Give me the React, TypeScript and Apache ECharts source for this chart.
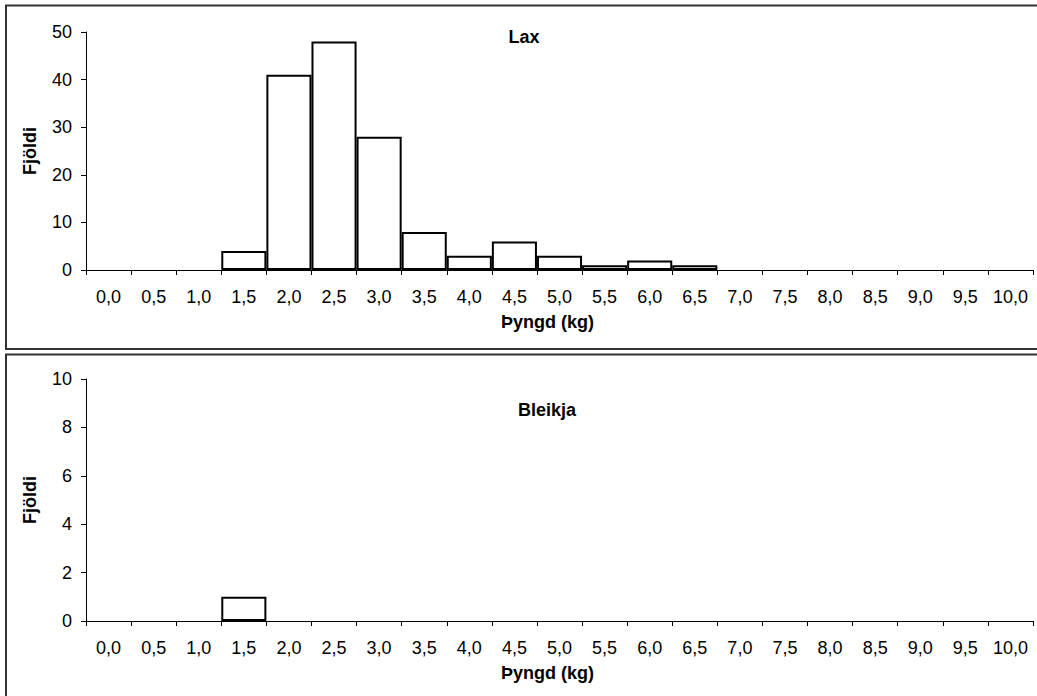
import React, { useEffect, useRef } from "react";
import * as echarts from "echarts";

const categories = ["0,0", "0,5", "1,0", "1,5", "2,0", "2,5", "3,0", "3,5", "4,0", "4,5", "5,0", "5,5", "6,0", "6,5", "7,0", "7,5", "8,0", "8,5", "9,0", "9,5", "10,0"];
const laxCounts = [0, 0, 0, 4, 41, 48, 28, 8, 3, 6, 3, 1, 2, 1, 0, 0, 0, 0, 0, 0, 0];
const bleikjaCounts = [0, 0, 0, 1, 0, 0, 0, 0, 0, 0, 0, 0, 0, 0, 0, 0, 0, 0, 0, 0, 0];
const titles = ["Lax", "Bleikja"];
const xName = "Þyngd (kg)";
const yName = "Fjöldi";
const yMax = [50, 10];
const yInterval = [10, 2];

const FONT = "'Liberation Sans', Arial, sans-serif";
const FS = 18;

export default function App() {
  const ref = useRef<HTMLDivElement>(null);
  useEffect(() => {
    if (!ref.current) return;
    const chart = echarts.init(ref.current, null, { renderer: "svg" });
    const grids = [
      { left: 86, right: 4, top: 32, height: 238 },
      { left: 86, right: 4, top: 379, height: 242 },
    ];
    const xAxes = grids.map((_, i) => ({
      type: "category",
      gridIndex: i,
      data: categories,
      boundaryGap: true,
      name: xName,
      nameLocation: "middle",
      nameGap: 43,
      nameTextStyle: { fontFamily: FONT, fontSize: FS, fontWeight: "bold", color: "#000", padding: [0, 24, 0, 0] },
      axisLine: { show: true, lineStyle: { color: "#000", width: 1 } },
      axisTick: { show: true, length: 5, lineStyle: { color: "#000" } },
      axisLabel: { fontFamily: FONT, fontSize: FS, color: "#000", margin: 18, interval: 0 },
      splitLine: { show: false },
    }));
    const yAxes = grids.map((_, i) => ({
      type: "value",
      gridIndex: i,
      min: 0,
      max: yMax[i],
      interval: yInterval[i],
      name: yName,
      nameLocation: "middle",
      nameGap: 47,
      nameTextStyle: { fontFamily: FONT, fontSize: FS, fontWeight: "bold", color: "#000" },
      axisLine: { show: true, lineStyle: { color: "#000", width: 1 } },
      axisTick: { show: true, length: 5, lineStyle: { color: "#000" } },
      axisLabel: { fontFamily: FONT, fontSize: FS, color: "#000", margin: 14 },
      splitLine: { show: false },
    }));
    const seriesData = [laxCounts, bleikjaCounts];
    const series = seriesData.map((arr, i) => ({
      type: "bar",
      xAxisIndex: i,
      yAxisIndex: i,
      data: arr.map((v) => (v === 0 ? null : v)),
      barWidth: "100%",
      barCategoryGap: 0,
      itemStyle: { color: "#fff", borderColor: "#000", borderWidth: 2 },
      silent: true,
    }));
    chart.setOption({
      animation: false,
      backgroundColor: "#fff",
      title: [
        { text: titles[0], left: 519, top: 23, textAlign: "center", textStyle: { fontFamily: FONT, fontSize: FS, fontWeight: "bold", color: "#000" } },
        { text: titles[1], left: 542, top: 396, textAlign: "center", textStyle: { fontFamily: FONT, fontSize: FS, fontWeight: "bold", color: "#000" } },
      ],
      grid: grids,
      xAxis: xAxes,
      yAxis: yAxes,
      series,
      graphic: [
        { type: "rect", silent: true, z: -1, shape: { x: 6, y: 5.5, width: 1100, height: 343.5 }, style: { fill: "none", stroke: "#333", lineWidth: 2 } },
        { type: "rect", silent: true, z: -1, shape: { x: 6, y: 354.5, width: 1100, height: 400 }, style: { fill: "none", stroke: "#333", lineWidth: 2 } },
      ],
    });
    return () => chart.dispose();
  }, []);
  return <div ref={ref} style={{ position: "absolute", left: 0, top: 0, width: 1037, height: 696 }} />;
}
